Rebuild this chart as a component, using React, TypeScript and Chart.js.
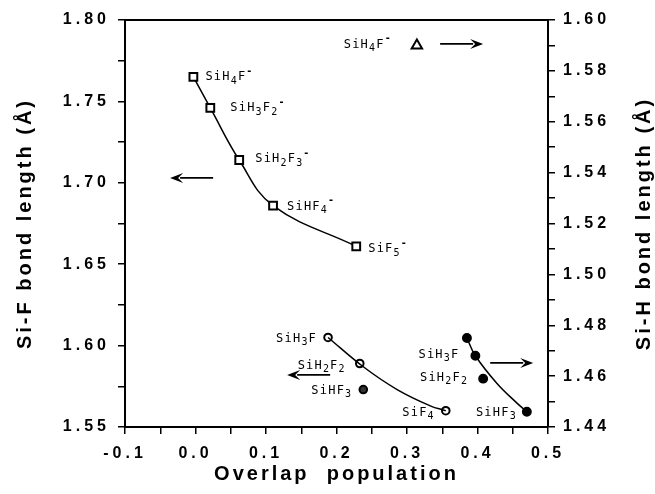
import React, { useEffect, useRef } from "react";
import { Chart, registerables } from "chart.js";
Chart.register(...registerables);

// ---- data ----
// Anions, Si-F bond length (left axis), squares
const anionLabels = ["SiH₄F⁻", "SiH₃F₂⁻", "SiH₂F₃⁻", "SiHF₄⁻", "SiF₅⁻"];
const anionOverlap = [-0.003, 0.021, 0.062, 0.11, 0.228];
const anionSiF = [1.765, 1.746, 1.714, 1.686, 1.661];

// Neutral molecules, Si-F bond length (left axis), open circles
const neutralLabels = ["SiH₃F", "SiH₂F₂", "SiHF₃", "SiF₄"];
const neutralOverlap = [0.188, 0.233, 0.238, 0.355];
const neutralSiF = [1.605, 1.589, 1.573, 1.56];
// hand-drawn curve through the neutral Si-F points
const neutralCurveX = [0.188, 0.238, 0.286, 0.333, 0.355];
const neutralCurveY = [1.605, 1.587, 1.573, 1.563, 1.56];

// Neutral molecules, Si-H bond length (right axis), filled circles
const hydrideLabels = ["", "SiH₃F", "SiH₂F₂", "SiHF₃"];
const hydrideOverlap = [0.385, 0.397, 0.408, 0.47];
const hydrideSiH = [1.475, 1.468, 1.459, 1.446];
// hand-drawn curve through the Si-H points
const hydrideCurveX = [0.385, 0.397, 0.428, 0.456, 0.47];
const hydrideCurveY = [1.475, 1.468, 1.457, 1.4494, 1.446];

// Anion SiH4F-, Si-H bond length (right axis), triangle
const anionSiHLabels = ["SiH₄F⁻"];
const anionSiHOverlap = [0.314];
const anionSiHLength = [1.59];

// Axis ticks
const xTickValues = [-0.1, -0.05, 0, 0.05, 0.1, 0.15, 0.2, 0.25, 0.3, 0.35, 0.4, 0.45, 0.5];
const xTickLabels = ["-0.1", "", "0.0", "", "0.1", "", "0.2", "", "0.3", "", "0.4", "", "0.5"];
const yTickValues = [1.55, 1.575, 1.6, 1.625, 1.65, 1.675, 1.7, 1.725, 1.75, 1.775, 1.8];
const yTickLabels = ["1.55", "", "1.60", "", "1.65", "", "1.70", "", "1.75", "", "1.80"];
const y2TickValues = [1.44, 1.45, 1.46, 1.47, 1.48, 1.49, 1.5, 1.51, 1.52, 1.53, 1.54, 1.55, 1.56, 1.57, 1.58, 1.59, 1.6];
const y2TickLabels = ["1.44", "", "1.46", "", "1.48", "", "1.50", "", "1.52", "", "1.54", "", "1.56", "", "1.58", "", "1.60"];

const xTitle = "Overlap  population";
const yTitle = "Si-F bond length (Å)";
const y2Title = "Si-H bond length (Å)";

// Arrows (axis, tail x, tail y, head x, head y) in data units
const arrowAxes = ["y", "y", "y2", "y2"];
const arrowTailX = [0.025, 0.191, 0.347, 0.418];
const arrowTailY = [1.703, 1.582, 1.5906, 1.4652];
const arrowHeadX = [-0.036, 0.13, 0.408, 0.479];
const arrowHeadY = [1.703, 1.582, 1.5906, 1.4652];

// ---- label placement (pixel offsets from the marker) ----
const anionLabelPos = [[12, 0, "left"], [20, 0, "left"], [16, -1, "left"], [14, 1, "left"], [12, 3, "left"]];
const neutralLabelPos = [[-11, 1, "right"], [-14, 2, "right"], [-11, 1, "right"], [-11, 2, "right"]];
const hydrideLabelPos = [[0, 0, "right"], [-16, -1, "right"], [-15, -1, "right"], [-10, 1, "right"]];
const anionSiHLabelPos = [[-25, -1, "right"]];

const FAMILY = '"Liberation Sans", Arial, Helvetica, sans-serif';
const LABEL_FONT = '"DejaVu Sans Mono", monospace';
const SUBS = "₀₁₂₃₄₅₆₇₈₉";

const toPts = (xs: number[], ys: number[]) => xs.map((x, i) => ({ x, y: ys[i] }));

// split a chemical label into runs: normal / subscript / superscript
function runs(t: string) {
  const out: { s: string; k: number }[] = [];
  for (const ch of t) {
    const si = SUBS.indexOf(ch);
    if (si >= 0) out.push({ s: String(si), k: 1 });
    else if (ch === "⁻") out.push({ s: "-", k: 2 });
    else out.push({ s: ch, k: 0 });
  }
  return out;
}

function drawRich(ctx: CanvasRenderingContext2D, t: string, x: number, y: number, align: string) {
  const parts = runs(t);
  const fonts = [`12px ${LABEL_FONT}`, `10px ${LABEL_FONT}`, `bold 10px ${LABEL_FONT}`];
  const dys = [0, 4, -6];
  let w = 0;
  const widths = parts.map((p) => {
    ctx.font = fonts[p.k];
    const ww = ctx.measureText(p.s).width + 1.2;
    w += ww;
    return ww;
  });
  let cx = align === "right" ? x - w : x;
  parts.forEach((p, i) => {
    ctx.font = fonts[p.k];
    ctx.fillText(p.s, cx, y + dys[p.k]);
    cx += widths[i];
  });
}

const decorPlugin = {
  id: "decor",
  beforeDraw(chart: any) {
    chart.ctx.letterSpacing = "3px"; // axis titles
  },
  beforeDatasetsDraw(chart: any) {
    chart.ctx.letterSpacing = "0px";
  },
  afterDatasetsDraw(chart: any) {
    chart.ctx.letterSpacing = "4px"; // tick labels (drawn at z=1)
  },
  afterDraw(chart: any) {
    const ctx = chart.ctx;
    const { left, right, top, bottom } = chart.chartArea;
    const sx = chart.scales.x;
    ctx.save();
    ctx.letterSpacing = "0px";
    // top frame line
    ctx.strokeStyle = "#000";
    ctx.lineWidth = 2;
    ctx.beginPath();
    ctx.moveTo(left - 1, top);
    ctx.lineTo(right + 1, top);
    ctx.stroke();

    // arrows
    ctx.lineWidth = 1.8;
    ctx.fillStyle = "#000";
    arrowAxes.forEach((ax, i) => {
      const sy = chart.scales[ax];
      const x1 = sx.getPixelForValue(arrowTailX[i]);
      const y1 = sy.getPixelForValue(arrowTailY[i]);
      const x2 = sx.getPixelForValue(arrowHeadX[i]);
      const y2 = sy.getPixelForValue(arrowHeadY[i]);
      const ang = Math.atan2(y2 - y1, x2 - x1);
      const L = 13, W = 5;
      ctx.beginPath();
      ctx.moveTo(x1, y1);
      ctx.lineTo(x2 - Math.cos(ang) * (L - 3), y2 - Math.sin(ang) * (L - 3));
      ctx.stroke();
      ctx.beginPath();
      ctx.moveTo(x2, y2);
      ctx.lineTo(x2 - Math.cos(ang) * L - Math.sin(ang) * W, y2 - Math.sin(ang) * L + Math.cos(ang) * W);
      ctx.lineTo(x2 - Math.cos(ang) * (L - 5), y2 - Math.sin(ang) * (L - 5));
      ctx.lineTo(x2 - Math.cos(ang) * L + Math.sin(ang) * W, y2 - Math.sin(ang) * L - Math.cos(ang) * W);
      ctx.closePath();
      ctx.fill();
    });

    // point labels
    ctx.letterSpacing = "0px";
    ctx.textBaseline = "middle";
    ctx.textAlign = "left";
    const groups: [string[], number[], number[], string, any[]][] = [
      [anionLabels, anionOverlap, anionSiF, "y", anionLabelPos],
      [neutralLabels, neutralOverlap, neutralSiF, "y", neutralLabelPos],
      [hydrideLabels, hydrideOverlap, hydrideSiH, "y2", hydrideLabelPos],
      [anionSiHLabels, anionSiHOverlap, anionSiHLength, "y2", anionSiHLabelPos],
    ];
    groups.forEach(([labels, xs, ys, ax, pos]) => {
      const sy = chart.scales[ax];
      labels.forEach((t, i) => {
        if (!t) return;
        const [dx, dy, align] = pos[i];
        drawRich(ctx, t, sx.getPixelForValue(xs[i]) + dx, sy.getPixelForValue(ys[i]) + dy, align);
      });
    });

    // right axis title (reads bottom-to-top)
    ctx.font = `bold 20px ${FAMILY}`;
    ctx.letterSpacing = "3px";
    ctx.textAlign = "center";
    ctx.textBaseline = "middle";
    ctx.translate(chart.width - 11, (top + bottom) / 2);
    ctx.rotate(-Math.PI / 2);
    ctx.fillText(y2Title, 0, 0);
    ctx.restore();
  },
};

export default function App() {
  const ref = useRef<HTMLCanvasElement | null>(null);
  useEffect(() => {
    if (!ref.current) return;
    const tickFont = { family: FAMILY, size: 16, weight: "bold" as const };
    const titleFont = { family: FAMILY, size: 20, weight: "bold" as const };
    const grid = { drawOnChartArea: false, color: "#000", lineWidth: 1.5, tickLength: 7 };
    const border = { color: "#000", width: 2 };
    const chart = new Chart(ref.current, {
      type: "scatter",
      data: {
        datasets: [
          {
            label: "anion Si-F",
            data: toPts(anionOverlap, anionSiF),
            yAxisID: "y",
            showLine: true,
            tension: 0.4,
            borderColor: "#000",
            borderWidth: 1.5,
            pointStyle: "rect",
            pointRadius: 5.5,
            pointBorderWidth: 2,
            pointBackgroundColor: "#fff",
            pointBorderColor: "#000",
          },
          {
            label: "neutral Si-F curve",
            data: toPts(neutralCurveX, neutralCurveY),
            yAxisID: "y",
            showLine: true,
            tension: 0.4,
            borderColor: "#000",
            borderWidth: 1.5,
            pointRadius: 0,
          },
          {
            label: "neutral Si-F",
            data: toPts(neutralOverlap, neutralSiF),
            yAxisID: "y",
            showLine: false,
            pointStyle: "circle",
            pointRadius: 3.8,
            pointBorderWidth: 2,
            pointBackgroundColor: ["#fff", "#fff", "#333", "#fff"],
            pointBorderColor: "#000",
          },
          {
            label: "Si-H curve",
            data: toPts(hydrideCurveX, hydrideCurveY),
            yAxisID: "y2",
            showLine: true,
            tension: 0.4,
            borderColor: "#000",
            borderWidth: 1.5,
            pointRadius: 0,
          },
          {
            label: "Si-H",
            data: toPts(hydrideOverlap, hydrideSiH),
            yAxisID: "y2",
            showLine: false,
            pointStyle: "circle",
            pointRadius: 4.2,
            pointBorderWidth: 1.5,
            pointBackgroundColor: "#000",
            pointBorderColor: "#000",
          },
          {
            label: "anion Si-H",
            data: toPts(anionSiHOverlap, anionSiHLength),
            yAxisID: "y2",
            showLine: false,
            pointStyle: "triangle",
            pointRadius: 6,
            pointBorderWidth: 2,
            pointBackgroundColor: "#fff",
            pointBorderColor: "#000",
          },
        ],
      },
      options: {
        responsive: false,
        animation: false,
        devicePixelRatio: 1,
        layout: { padding: { top: 20, left: 0, right: 0, bottom: 0 } },
        plugins: { legend: { display: false }, tooltip: { enabled: false } },
        scales: {
          x: {
            type: "linear",
            position: "bottom",
            min: -0.1,
            max: 0.5,
            afterBuildTicks: (s: any) => { s.ticks = xTickValues.map((v) => ({ value: v })); },
            afterFit: (s: any) => { s.height = 67; },
            ticks: {
              z: 1,
              autoSkip: false,
              maxRotation: 0,
              color: "#000",
              font: tickFont,
              padding: 10,
              callback: (_v: any, i: number) => xTickLabels[i],
            },
            grid,
            border,
            title: { display: true, text: xTitle, color: "#000", font: titleFont, padding: { top: 0, bottom: 8 } },
          },
          y: {
            type: "linear",
            position: "left",
            min: 1.55,
            max: 1.8,
            afterBuildTicks: (s: any) => { s.ticks = yTickValues.map((v) => ({ value: v })); },
            afterFit: (s: any) => { s.width = 125; },
            ticks: {
              z: 1,
              autoSkip: false,
              color: "#000",
              font: tickFont,
              padding: 8,
              callback: (_v: any, i: number) => yTickLabels[i],
            },
            grid,
            border,
            title: { display: true, text: yTitle, color: "#000", font: titleFont, padding: { top: 13, bottom: 0 } },
          },
          y2: {
            type: "linear",
            position: "right",
            min: 1.44,
            max: 1.6,
            afterBuildTicks: (s: any) => { s.ticks = y2TickValues.map((v) => ({ value: v })); },
            afterFit: (s: any) => { s.width = 107; },
            ticks: {
              z: 1,
              autoSkip: false,
              color: "#000",
              font: tickFont,
              padding: 8,
              callback: (_v: any, i: number) => y2TickLabels[i],
            },
            grid,
            border,
            title: { display: false, text: y2Title },
          },
        },
      } as any,
      plugins: [decorPlugin],
    });
    return () => chart.destroy();
  }, []);
  return (
    <div style={{ position: "fixed", left: 0, top: 0, width: 655, height: 494, background: "#fff" }}>
      <canvas ref={ref} width={655} height={494} />
    </div>
  );
}
